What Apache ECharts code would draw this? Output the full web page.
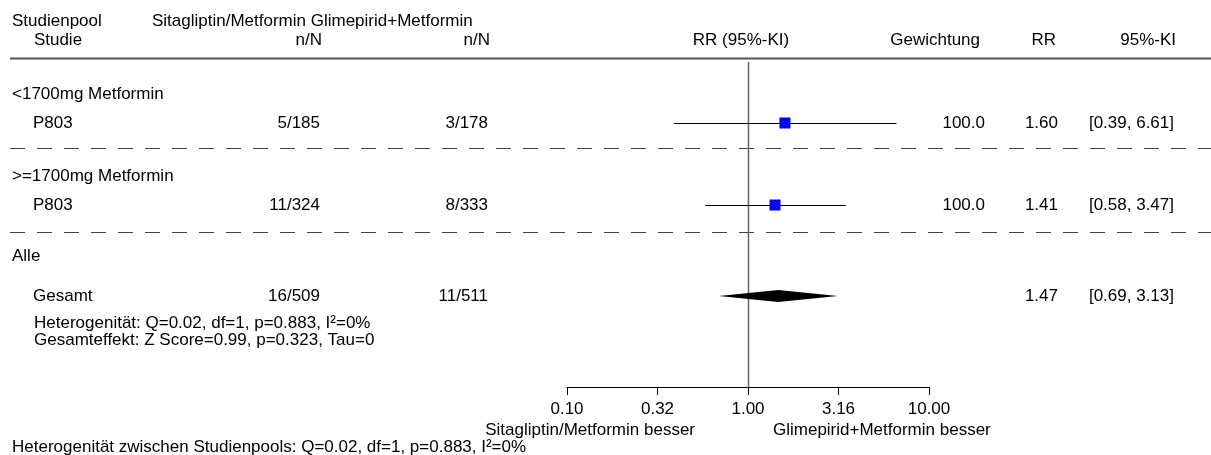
<!DOCTYPE html>
<html>
<head>
<meta charset="utf-8">
<script src="https://cdn.jsdelivr.net/npm/echarts@6/dist/echarts.min.js"></script>
<style>
html, body { margin: 0; padding: 0; background: #fff; }
#main { width: 1211px; height: 455px; }
</style>
</head>
<body>
<div id="main"></div>
<script>
// Daten
var groupNames = ['<1700mg Metformin', '>=1700mg Metformin', 'Alle'];
var studyNames = ['P803', 'P803'];
var armA = ['5/185', '11/324'];
var armB = ['3/178', '8/333'];
var rr = [1.60, 1.41];
var lower = [0.39, 0.58];
var upper = [6.61, 3.47];
var weights = ['100.0', '100.0'];
var pooledName = 'Gesamt';
var pooledA = '16/509';
var pooledB = '11/511';
var pooledRR = [1.47];
var pooledLower = [0.69];
var pooledUpper = [3.13];
var tickLabels = ['0.10', '0.32', '1.00', '3.16', '10.00'];
var hetText = 'Heterogenität: Q=0.02, df=1, p=0.883, I²=0%';
var effText = 'Gesamteffekt: Z Score=0.99, p=0.323, Tau=0';
var betweenText = 'Heterogenität zwischen Studienpools: Q=0.02, df=1, p=0.883, I²=0%';

// Layout (Pixelzeilen)
var FAMILY = '"Liberation Sans", Arial, sans-serif';
var FONT = '17px ' + FAMILY;
var groupY = [94, 176, 256];
var studyY = [123, 205];
var pooledY = 296;
var dashY = [148, 232];
var refTop = 62, axisY = 387;

var chart = echarts.init(document.getElementById('main'));

function txt(x, y, s, align) {
	return {
		type: 'text', x: x, y: y, silent: true,
		style: { text: s, font: FONT, fill: '#000', textAlign: align || 'left', textVerticalAlign: 'middle' }
	};
}
function hline(y, dash) {
	return {
		type: 'line', silent: true,
		shape: { x1: 10, y1: y + 0.5, x2: 1211, y2: y + 0.5 },
		style: { stroke: dash ? '#444' : '#555', lineWidth: dash ? 1 : 2, lineDash: dash ? [15, 12] : null }
	};
}

var graphics = [
	txt(12, 21, 'Studienpool'),
	txt(152, 21, 'Sitagliptin/Metformin Glimepirid+Metformin'),
	txt(58, 40, 'Studie', 'center'),
	txt(322, 40, 'n/N', 'right'),
	txt(490, 40, 'n/N', 'right'),
	txt(741, 40, 'RR (95%-KI)', 'center'),
	txt(980, 40, 'Gewichtung', 'right'),
	txt(1056, 40, 'RR', 'right'),
	txt(1176, 40, '95%-KI', 'right'),
	hline(58, false)
];
groupNames.forEach(function (g, i) { graphics.push(txt(12, groupY[i], g)); });
studyNames.forEach(function (s, i) {
	var y = studyY[i];
	graphics.push(txt(33, y, s));
	graphics.push(txt(320, y, armA[i], 'right'));
	graphics.push(txt(488, y, armB[i], 'right'));
	graphics.push(txt(985, y, weights[i], 'right'));
	graphics.push(txt(1058, y, rr[i].toFixed(2), 'right'));
	graphics.push(txt(1174, y, '[' + lower[i].toFixed(2) + ', ' + upper[i].toFixed(2) + ']', 'right'));
});
dashY.forEach(function (y) { graphics.push(hline(y, true)); });
graphics.push(txt(33, pooledY, pooledName));
graphics.push(txt(320, pooledY, pooledA, 'right'));
graphics.push(txt(488, pooledY, pooledB, 'right'));
graphics.push(txt(1058, pooledY, pooledRR[0].toFixed(2), 'right'));
graphics.push(txt(1174, pooledY, '[' + pooledLower[0].toFixed(2) + ', ' + pooledUpper[0].toFixed(2) + ']', 'right'));
graphics.push(txt(34, 323, hetText));
graphics.push(txt(34, 340, effText));
graphics.push(txt(695, 430, 'Sitagliptin/Metformin besser', 'right'));
graphics.push(txt(773, 430, 'Glimepirid+Metformin besser'));
graphics.push(txt(12, 447, betweenText));

var ciData = studyNames.map(function (s, i) { return [Math.log10(lower[i]), Math.log10(upper[i]), studyY[i]]; });
var pointData = studyNames.map(function (s, i) { return [Math.log10(rr[i]), studyY[i]]; });
var diamondData = pooledRR.map(function (v, i) {
	return [Math.log10(pooledLower[i]), Math.log10(v), Math.log10(pooledUpper[i]), pooledY];
});

var option = {
	animation: false,
	backgroundColor: '#fff',
	grid: { left: 567, right: 282, top: 0, bottom: 455 - axisY },
	xAxis: {
		type: 'value', min: -1, max: 1, interval: 0.5, position: 'bottom',
		axisLine: { onZero: false, lineStyle: { color: '#000', width: 1 } },
		axisTick: { length: 8, lineStyle: { color: '#000' } },
		splitLine: { show: false },
		axisLabel: {
			margin: 14, color: '#000', fontSize: 17, fontFamily: FAMILY,
			formatter: function (v) { return tickLabels[Math.round((v + 1) * 2)]; }
		}
	},
	yAxis: { type: 'value', min: 0, max: axisY, inverse: true, show: false },
	graphic: graphics,
	series: [
		{
			// Referenzlinie bei RR = 1
			type: 'custom', silent: true, z: 1,
			renderItem: function (params, api) {
				var a = api.coord([api.value(0), api.value(1)]);
				var b = api.coord([api.value(0), api.value(2)]);
				return { type: 'line', shape: { x1: a[0] + 0.5, y1: a[1], x2: b[0] + 0.5, y2: b[1] }, style: { stroke: '#666', lineWidth: 1.5 } };
			},
			encode: { x: 0, y: [1, 2] },
			data: [[0, refTop, axisY]]
		},
		{
			type: 'custom', silent: true, z: 2,
			renderItem: function (params, api) {
				var a = api.coord([api.value(0), api.value(2)]);
				var b = api.coord([api.value(1), api.value(2)]);
				return { type: 'line', shape: { x1: a[0], y1: a[1] + 0.5, x2: b[0], y2: b[1] + 0.5 }, style: { stroke: '#000', lineWidth: 1 } };
			},
			encode: { x: [0, 1], y: 2 },
			data: ciData
		},
		{
			type: 'scatter', silent: true, z: 3,
			symbol: 'rect', symbolSize: 11,
			itemStyle: { color: '#0000ff', opacity: 1 },
			data: pointData
		},
		{
			type: 'custom', silent: true, z: 3,
			renderItem: function (params, api) {
				var l = api.coord([api.value(0), api.value(3)]);
				var m = api.coord([api.value(1), api.value(3)]);
				var r = api.coord([api.value(2), api.value(3)]);
				return {
					type: 'polygon',
					shape: { points: [[l[0], l[1]], [m[0], m[1] - 6], [r[0], r[1]], [m[0], m[1] + 6]] },
					style: { fill: '#000' }
				};
			},
			encode: { x: [0, 1, 2], y: 3 },
			data: diamondData
		}
	]
};
chart.setOption(option);
</script>
</body>
</html>
